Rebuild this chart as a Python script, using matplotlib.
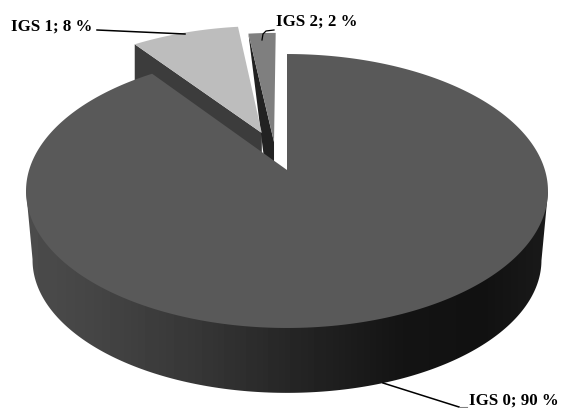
import numpy as np
import matplotlib
matplotlib.use("Agg")
import matplotlib.pyplot as plt
from matplotlib.patches import Polygon

# IGS grade shares, percent
categories = ["IGS 0", "IGS 1", "IGS 2"]
values = [90, 8, 2]

TOP_COLORS = ["#595959", "#bdbdbd", "#7f7f7f"]
# how far each slice is pulled out of the pie, in unit disk coords
OFFSETS = [(0.0, 0.0), (-0.102, 0.289), (-0.052, 0.216)]

# perspective of the disk, in pixels of the 570x408 picture
CX, CY = 287.0, 170.0
D, P, C = 257.9, -107.7, 0.1533


def project(u, v):
    den = 1 + C * v
    return CX + D * u / den, (CY + P * v) / den


def drop(x, y):
    # same point on the bottom face of the pie
    return CX + (x - CX) * 0.975, 260 + (y - 191) * 0.97


def slice_xy(start, end, offset):
    a = np.radians(np.linspace(start, end, 400))
    u = np.r_[0, np.sin(a)] + offset[0]
    v = np.r_[0, np.cos(a)] + offset[1]
    return project(u, v)


fig = plt.figure(figsize=(5.7, 4.08), dpi=100)
ax = fig.add_axes([0, 0, 1, 1])

edges = np.r_[0, np.cumsum(values)] / sum(values) * 360
tops = [slice_xy(edges[i], edges[i + 1], OFFSETS[i]) for i in range(len(values))]

# walls of the pulled out slices, seen through the gap
x1, y1 = tops[1]
bx, by = drop(x1[[1, 0]], y1[[1, 0]])
ax.fill([x1[1], x1[0], x1[0], x1[1]], [y1[1], y1[0], by[1], by[0]], color="#3c3c3c", lw=0)
x2, y2 = tops[2]
ax.fill([x2[1], x2[0], x2[0], x2[0] - 4], [y2[1], y2[0], y2[0] + 64, y2[0] + 64], color="#222222", lw=0)

# outer wall of the big slice, only the front part from rim to rim, shaded left to right
x0, y0 = tops[0]
xb, yb = drop(x0, y0)
right, left = np.argmax(x0), np.argmin(x0)
wall_x = np.r_[x0[right], xb[right:left + 1], x0[left]]
wall_y = np.r_[y0[right], yb[right:left + 1], y0[left]]
wall = Polygon(np.c_[wall_x, wall_y], closed=True, transform=ax.transData,
               facecolor="none", edgecolor="none")
ax.add_patch(wall)
xs = np.arange(20, 556)
grey = np.interp(xs, [26, 100, 200, 300, 400, 480, 549], [76, 68, 54, 36, 20, 17, 26])
img = ax.imshow(grey[None, :], cmap="gray", vmin=0, vmax=255, extent=(20, 556, 400, 180), aspect="auto")
img.set_clip_path(wall)

# draw order: small slices first, big one over them
for i in [2, 1, 0]:
    ax.fill(tops[i][0], tops[i][1], color=TOP_COLORS[i], lw=0, zorder=3)

# leader lines
ax.plot([97, 185], [30, 34], color="black", lw=1.1, zorder=4)
ax.plot([262, 263, 266, 274], [40, 34, 31, 30], color="black", lw=0.9, zorder=4)
ax.plot([383, 459], [383, 407], color="black", lw=1.1, zorder=4)
ax.plot([459, 467], [407, 407], color="#808080", lw=0.8, zorder=4)

ax.set_xlim(0, 570)
ax.set_ylim(408, 0)
ax.axis("off")

font = dict(family="Liberation Serif", fontweight="bold", fontsize=12.2, color="black")
ax.text(11, 31, f"{categories[1]}; {values[1]} %", va="baseline", **font)
ax.text(276, 26, f"{categories[2]}; {values[2]} %", va="baseline", **font)
ax.text(469, 404.5, f"{categories[0]}; {values[0]} %", va="baseline", **font)

fig.savefig("out.png", dpi=100)
